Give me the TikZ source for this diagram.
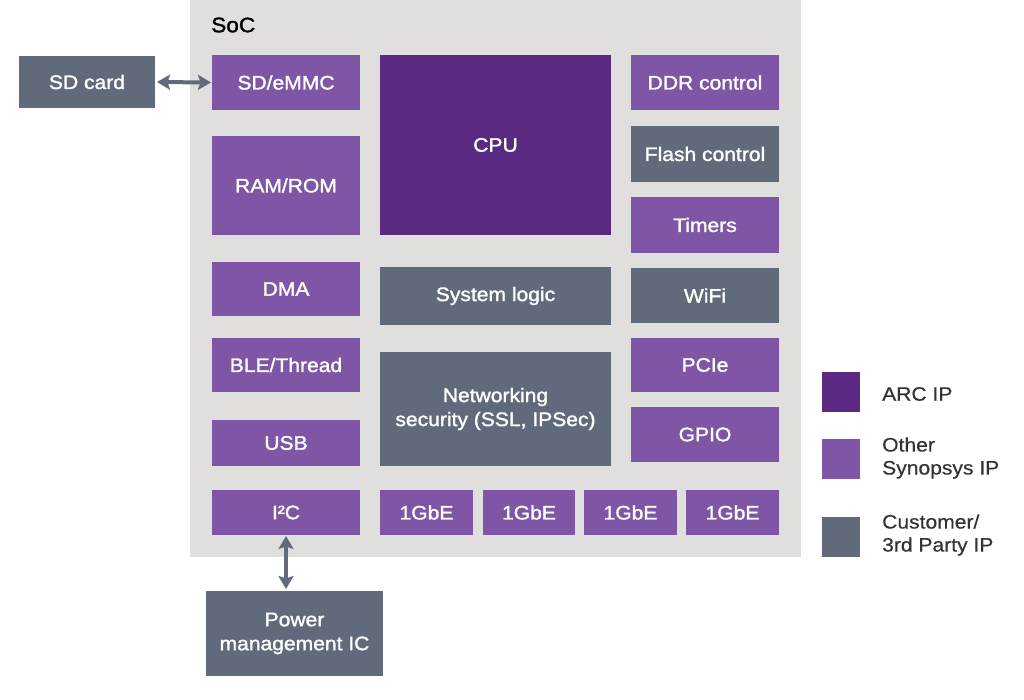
\documentclass[tikz,border=0pt]{standalone}
\usepackage{fontspec}
\setmainfont[FakeStretch=1.08,FakeBold=1.5]{Liberation Sans}
\newfontfamily\legfont[FakeStretch=1.08,FakeBold=0.4]{Liberation Sans}
\usetikzlibrary{arrows.meta}
\definecolor{arcp}{HTML}{5A2A82}
\definecolor{othp}{HTML}{7F55A5}
\definecolor{custg}{HTML}{616A7B}
\definecolor{socbg}{HTML}{E1DFDE}
\definecolor{legtxt}{HTML}{333333}
\tikzset{
  blk/.style={inner sep=0pt, outer sep=0pt, align=center, text=white,
    font=\fontsize{19.5}{24}\selectfont},
  arc/.style={blk, fill=arcp},
  oth/.style={blk, fill=othp},
  cust/.style={blk, fill=custg},
  link/.style={draw=custg, line width=4pt, {Stealth[length=13pt,width=15pt,inset=2.5pt]}-{Stealth[length=13pt,width=15pt,inset=2.5pt]}},
  legbox/.style={inner sep=0pt, minimum width=38pt, minimum height=40pt},
  legtext/.style={anchor=west, inner sep=0pt, align=left, text=legtxt,
    font=\legfont\fontsize{19.5}{23}\selectfont}
}
\newcommand{\blk}[7]{%
  \node[#6, minimum width={(#4-#2)*1pt}, minimum height={(#5-#3)*1pt}]
    (#1) at ({(#2+#4)/2}, {(#3+#5)/2}) {#7};}
\begin{document}
\begin{tikzpicture}[x=1pt, y=-1pt]
\useasboundingbox (0,0) rectangle (1024,699);
\fill[white] (0,0) rectangle (1024,699);
% SoC background
\node[fill=socbg, inner sep=0pt, minimum width=611pt, minimum height=557pt] (soc) at (495.5,278.5) {};
\node[anchor=west, inner sep=0pt, font=\fontsize{21}{24}\selectfont, text=black] (soclbl) at (211,25) {SoC};
% left column
\blk{sdcard}{19}{56}{155}{108}{cust}{SD card}
\blk{sdemmc}{212}{55}{360}{110}{oth}{SD/eMMC}
\blk{ramrom}{212}{136}{360}{235}{oth}{RAM/ROM}
\blk{dma}{212}{262}{360}{316}{oth}{DMA}
\blk{ble}{212}{338}{360}{392}{oth}{BLE/Thread}
\blk{usb}{212}{420}{360}{466}{oth}{USB}
\blk{i2c}{212}{490}{360}{535}{oth}{I²C}
% middle column
\blk{cpu}{380}{55}{611}{235}{arc}{CPU}
\blk{syslogic}{380}{267}{611}{325}{cust}{System logic}
\blk{netsec}{380}{352}{611}{466}{cust}{Networking\\security (SSL, IPSec)}
% right column
\blk{ddr}{631}{55}{779}{110}{oth}{DDR control}
\blk{flash}{631}{126}{779}{182}{cust}{Flash control}
\blk{timers}{631}{197}{779}{253}{oth}{Timers}
\blk{wifi}{631}{268}{779}{323}{cust}{WiFi}
\blk{pcie}{631}{338}{779}{392}{oth}{PCIe}
\blk{gpio}{631}{407}{779}{462}{oth}{GPIO}
% 1GbE row
\blk{gbeA}{380}{490}{473}{535}{oth}{1GbE}
\blk{gbeB}{483}{490}{575}{535}{oth}{1GbE}
\blk{gbeC}{584}{490}{677}{535}{oth}{1GbE}
\blk{gbeD}{686}{490}{779}{535}{oth}{1GbE}
% external PMIC
\blk{pmic}{206}{591}{383}{676}{cust}{Power\\management IC}
% connectors
\draw[link, shorten <=2pt, shorten >=1pt] (sdcard.east) -- (sdemmc.west);
\draw[link, shorten <=1pt, shorten >=2pt] (i2c.south) -- (i2c.south |- pmic.north);
% legend
\node[legbox, fill=arcp] (legarc) at (840.5,392) {};
\node[legbox, fill=othp] (legoth) at (840.5,458.5) {};
\node[legbox, fill=custg] (legcust) at (840.5,537) {};
\node[legtext] (legarct) at (882,394) {ARC IP};
\node[legtext] (legotht) at (882,458) {Other\\Synopsys IP};
\node[legtext] (legcustt) at (882,535) {Customer/\\3rd Party IP};
\end{tikzpicture}
\end{document}
